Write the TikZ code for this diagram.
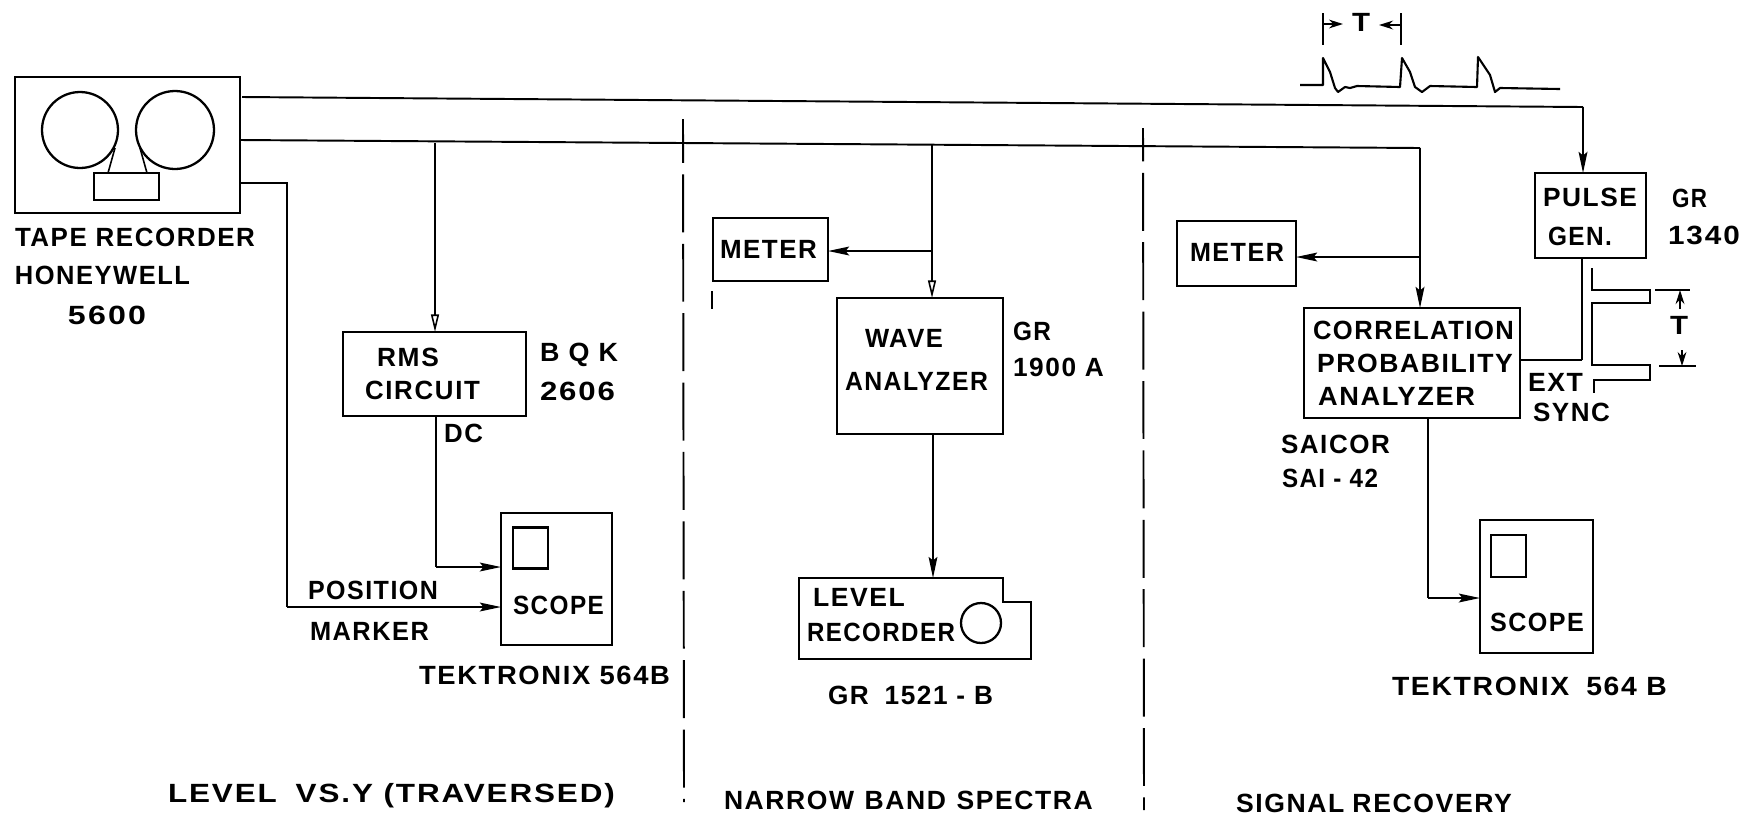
\documentclass[tikz,border=0pt]{standalone}
\usepackage{fontspec}
\usepackage{graphicx}
\setmainfont{Liberation Sans}[BoldFont={Liberation Sans Bold},LetterSpace=6]
\usetikzlibrary{arrows.meta}
\newcommand{\lbl}[5]{\node[lab] (#1) at (#2,#3) {\resizebox{\dimexpr 0.569pt*#4\relax}{\height}{#5}};}
\tikzset{
  lab/.style={anchor=west,inner sep=0pt,outer sep=0pt,font=\fontsize{15}{17}\selectfont\bfseries,text=black},
  boxnode/.style={draw=black,line width=1.3pt,inner sep=0pt,outer sep=0pt,fill=none},
  wire/.style={draw=black,line width=1.1pt,line join=miter},
  flow/.style={wire,-{Stealth[length=12pt,width=5pt,inset=2pt]}},
  openflow/.style={draw=black,line width=0.9pt,-{Stealth[open,length=10pt,width=4.5pt,inset=0pt]}},
  thin wire/.style={draw=black,line width=0.9pt},
  divider/.style={draw=black,line width=1.1pt,dash pattern=on 33pt off 6.5pt},
  wave/.style={draw=black,line width=1.2pt,line join=round},
  dim/.style={draw=black,line width=1.1pt,-{Stealth[length=8pt,width=5pt]}}
}
\begin{document}
\begin{tikzpicture}[x=0.02cm,y=-0.02cm]
\useasboundingbox[fill=white] (0,0) rectangle (1743,816);

% boxes
\node[boxnode,minimum width=4.5cm,minimum height=2.72cm] (tape) at (127.5,145) {};
\node[boxnode,circle,minimum size=1.52cm] (reelL) at (80,130) {};
\node[boxnode,circle,minimum size=1.56cm] (reelR) at (175,130) {};
\node[boxnode,minimum width=1.3cm,minimum height=0.54cm] (head) at (126.5,186.5) {};
\node[boxnode,minimum width=3.66cm,minimum height=1.68cm] (rms) at (434.5,374) {};
\node[boxnode,minimum width=2.22cm,minimum height=2.64cm] (scopeA) at (556.5,579) {};
\node[boxnode,minimum width=0.7cm,minimum height=0.82cm] (scrA) at (530.5,548) {};
\node[boxnode,minimum width=2.3cm,minimum height=1.26cm] (meterA) at (770.5,249.5) {};
\node[boxnode,minimum width=3.32cm,minimum height=2.72cm] (wavean) at (920,366) {};
\node[boxnode,minimum width=2.38cm,minimum height=1.3cm] (meterB) at (1236.5,253.5) {};
\node[boxnode,minimum width=2.22cm,minimum height=1.7cm] (pulse) at (1590.5,215.5) {};
\node[boxnode,minimum width=4.32cm,minimum height=2.2cm] (corr) at (1412,363) {};
\node[boxnode,minimum width=2.26cm,minimum height=2.66cm] (scopeB) at (1536.5,586.5) {};
\node[boxnode,minimum width=0.7cm,minimum height=0.84cm] (scrB) at (1508.5,556) {};
\node[boxnode,circle,minimum size=0.8cm] (dial) at (981,623) {};

% level recorder outline
\draw[line width=1.3pt,line join=miter] (799,578) -- (1003,578) -- (1003,602) -- (1031,602) -- (1031,659) -- (799,659) -- cycle;
\coordinate (lrIn) at (933,578);

% tape path
\draw[thin wire] (115,148) -- (108,173);
\draw[thin wire] (140,148) -- (147,173);

% connector coordinates
\coordinate (outA) at (242,97);
\coordinate (outAc) at (1583,107);
\coordinate (pulseIn) at (1583,173);
\coordinate (outB) at (240,140);
\coordinate (outBc) at (1420,148);
\coordinate (corrIn) at (1420,308);
\coordinate (outC) at (240,183);
\coordinate (outCc) at (287,183);
\coordinate (outCd) at (287,607);
\coordinate (scopeAm) at (501,607);
\coordinate (rmsTap) at (435,143);
\coordinate (rmsIn) at (435,332);
\coordinate (rmsOut) at (436,416);
\coordinate (dcC) at (436,567);
\coordinate (scopeAd) at (501,567);
\coordinate (waveTap) at (932,144);
\coordinate (waveIn) at (932,298);
\coordinate (waveOut) at (933,434);
\coordinate (mAj) at (932,251);
\coordinate (mAe) at (828,251);
\coordinate (mBj) at (1420,257);
\coordinate (mBe) at (1296,257);
\coordinate (pulseOut) at (1582,258);
\coordinate (syncC) at (1582,360);
\coordinate (syncE) at (1520,360);
\coordinate (corrOut) at (1428,418);
\coordinate (corrC) at (1428,598);
\coordinate (scopeBd) at (1480,598);

% connectors
\draw[wire] (outA) -- (outAc);
\draw[flow] (outAc) -- (pulseIn);
\draw[wire] (outB) -- (outBc);
\draw[flow] (outBc) -- (corrIn);
\draw[wire] (outC) -- (outCc) -- (outCd);
\draw[flow] (outCd) -- (scopeAm);
\draw[openflow] (rmsTap) -- (rmsIn);
\draw[wire] (rmsOut) -- (dcC);
\draw[flow] (dcC) -- (scopeAd);
\draw[openflow] (waveTap) -- (waveIn);
\draw[flow] (mAj) -- (mAe);
\draw[flow,line width=0.9pt] (waveOut) -- (lrIn);
\draw[flow] (mBj) -- (mBe);
\draw[wire] (pulseOut) -- (syncC);
\draw[wire,line width=1.4pt] (syncC) -- (syncE);
\draw[wire] (corrOut) -- (corrC);
\draw[flow] (corrC) -- (scopeBd);

% dividers
\coordinate (divAt) at (683,119);
\coordinate (divAb) at (684,802);
\coordinate (divBt) at (1143,128);
\coordinate (divBb) at (1144,810);
\draw[divider,dash phase=8pt] (divAt) -- (divAb);
\draw[divider,dash phase=14pt] (divBt) -- (divBb);
\draw[wire] (712,291) -- (712,309);

% top waveform
\draw[wave] (1300,85) -- (1323,85) -- (1323,58) -- (1330,72) -- (1335,88) -- (1338,92) -- (1345,87) -- (1350,88) -- (1357,86) -- (1400,87) -- (1402,58) -- (1410,72) -- (1415,87) -- (1422,92) -- (1430,86) -- (1477,87) -- (1478,57) -- (1490,75) -- (1495,92) -- (1500,88) -- (1560,89);
\draw[wire] (1323,13) -- (1323,45);
\draw[wire] (1401,13) -- (1401,45);
\draw[dim] (1323,24) -- (1343,24);
\draw[dim] (1401,25) -- (1379,25);

% sync pulse drawing
\draw[wire,line width=1.3pt,line join=miter] (1592,268) -- (1592,290) -- (1650,290) -- (1650,303) -- (1592,303) -- (1592,365) -- (1650,365) -- (1650,380) -- (1594,380) -- (1594,393);
\draw[wire] (1655,290) -- (1690,290);
\draw[wire] (1659,366) -- (1696,366);
\draw[dim] (1680,309) -- (1680,290);
\draw[dim] (1682,350) -- (1682,366);

% labels
\lbl{tTape}{15}{237}{240}{TAPE RECORDER}
\lbl{tHon}{15}{275}{175}{HONEYWELL}
\lbl{tFive}{68}{315}{78}{5\kern1pt6\kern1pt0\kern1pt0}
\lbl{tRms}{377}{357}{62}{R\kern1pt M\kern1pt S}
\lbl{tCirc}{365}{390}{115}{C\kern1pt I\kern1pt R\kern1pt C\kern1pt U\kern1pt I\kern1pt T}
\lbl{tDc}{444}{433}{39}{D\kern1pt C}
\lbl{tBqk}{540}{355}{78}{B Q K}
\lbl{t2606}{540}{391}{75}{2606}
\lbl{tPos}{308}{590}{130}{POSITION}
\lbl{tMark}{310}{631}{119}{MARKER}
\lbl{tScA}{513}{605}{91}{SCOPE}
\lbl{tTekA}{419}{675}{251}{TEKTRONIX 564B}
\lbl{tLev}{168}{796}{447}{LEVEL\hspace{0.6em}VS.Y (TRAVERSED)}
\lbl{tNarrow}{724}{800}{369}{NARROW\hspace{0.4em}BAND\hspace{0.4em}SPECTRA}
\lbl{tSig}{1236}{803}{276}{SIGNAL\hspace{0.3em}RECOVERY}
\lbl{tMetA}{720}{249}{97}{METER}
\lbl{tWave}{865}{338}{78}{WAVE}
\lbl{tAna}{845}{381}{143}{ANALYZER}
\lbl{tGrA}{1013}{331}{38}{GR}
\lbl{t1900}{1013}{367}{91}{1900 A}
\lbl{tLevB}{813}{597}{92}{LEVEL}
\lbl{tRec}{807}{632}{148}{RECORDER}
\lbl{tGr1521}{828}{695}{165}{GR\hspace{0.6em}1521 - B}
\lbl{tMetB}{1190}{252}{94}{METER}
\lbl{tPul}{1543}{197}{94}{PULSE}
\lbl{tGen}{1548}{236}{64}{GEN.}
\lbl{tGrB}{1672}{198}{35}{GR}
\lbl{t1340}{1668}{235}{72}{1\kern1pt3\kern1pt4\kern1pt0}
\lbl{tCorr}{1313}{330}{201}{CORRELATION}
\lbl{tProb}{1317}{363}{196}{PROBABILITY}
\lbl{tAnaB}{1318}{396}{157}{ANALYZER}
\lbl{tExt}{1528}{382}{55}{EXT}
\lbl{tSync}{1533}{412}{77}{SYNC}
\lbl{tSai}{1281}{444}{109}{SAICOR}
\lbl{tSai2}{1282}{478}{96}{SAI - 42}
\lbl{tScB}{1490}{622}{94}{SCOPE}
\lbl{tTekB}{1392}{686}{275}{TEKTRONIX\hspace{0.6em}564 B}
\lbl{tTa}{1352}{22}{18}{T}
\lbl{tTb}{1670}{325}{18}{T}
\end{tikzpicture}
\end{document}
